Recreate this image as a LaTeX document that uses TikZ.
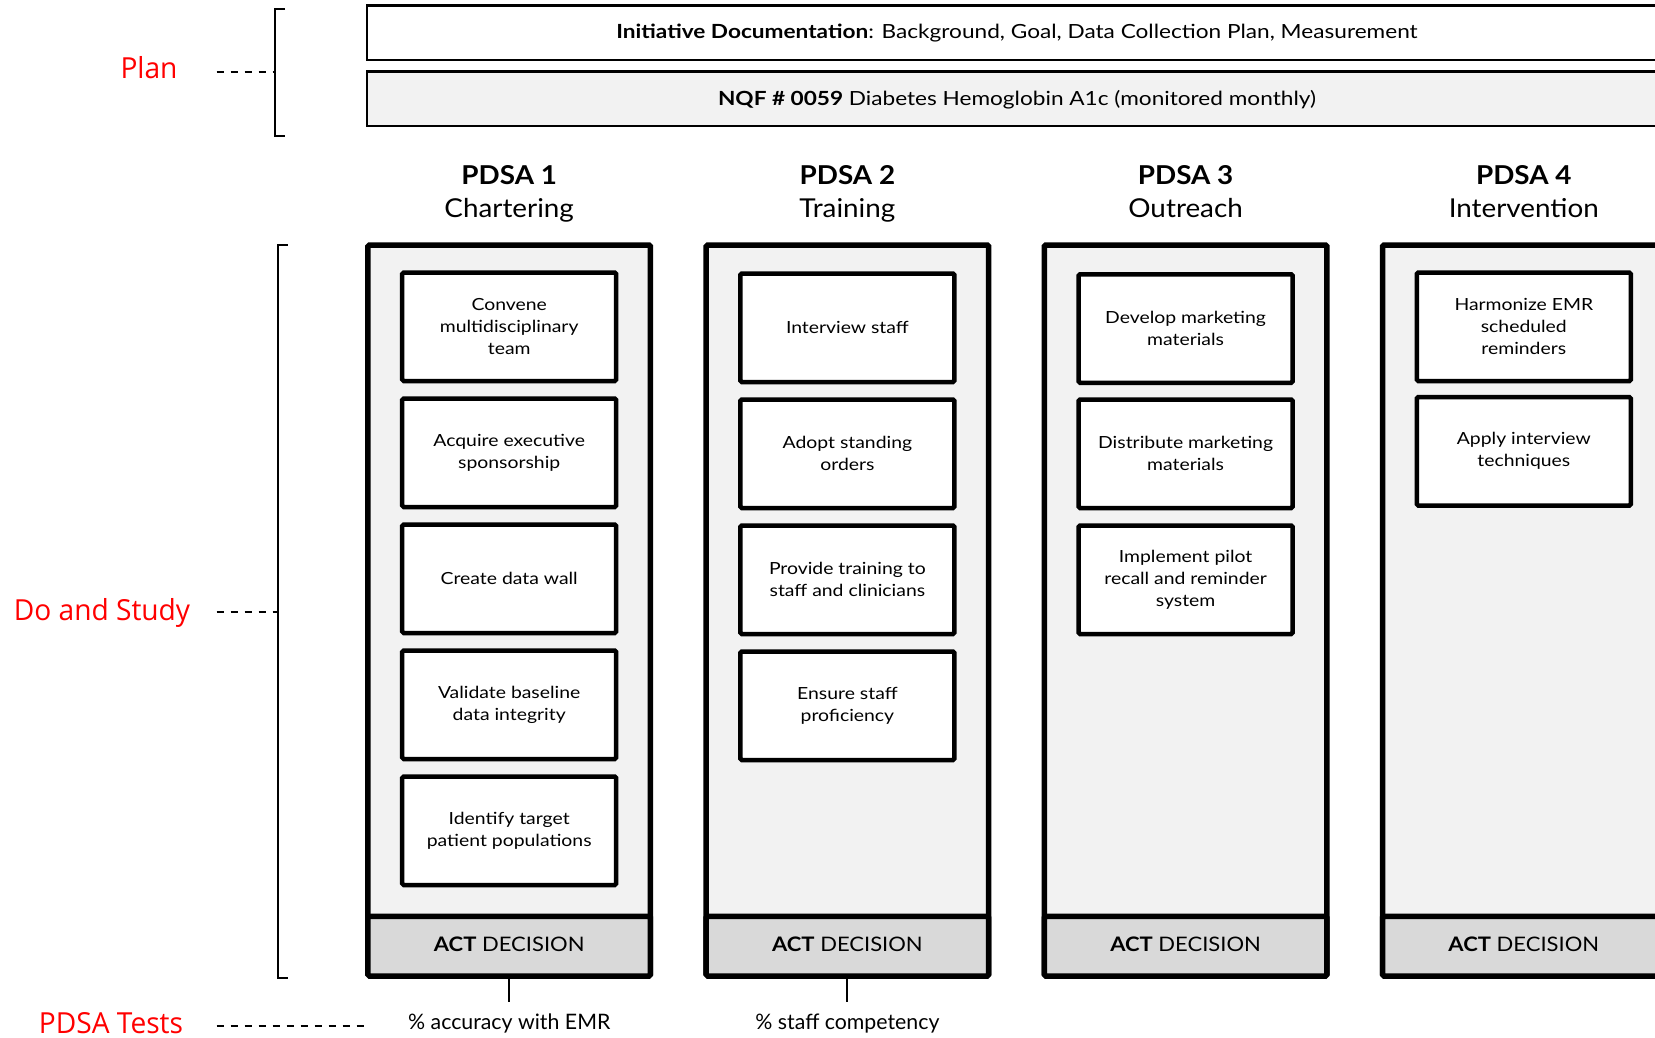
\documentclass[tikz,border=0pt]{standalone}
\usepackage{fontspec}
\setmainfont{Lato}
\newfontfamily\boxf[FakeStretch=1.16]{Lato}
\newfontfamily\headf[FakeStretch=1.07]{Lato}
\newfontfamily\actf[FakeStretch=1.10]{Lato}
\newfontfamily\redfont[FakeStretch=0.97]{Open Sans}
\definecolor{colgray}{HTML}{F2F2F2}
\definecolor{actgray}{HTML}{D9D9D9}
\definecolor{labred}{HTML}{FF0000}
\begin{document}
\begin{tikzpicture}[x=1pt,y=-1pt,
  colbox/.style={draw, line width=5.5pt, fill=colgray, minimum width=282.5pt, minimum height=730pt, anchor=north, inner sep=0pt, outer sep=0pt, rounded corners=1.5pt},
  actbox/.style={draw, line width=5.5pt, fill=actgray, minimum width=282.5pt, minimum height=59.7pt, anchor=north, inner sep=0pt, outer sep=0pt, rounded corners=1.5pt},
  taskbox/.style={draw, line width=4.5pt, fill=white, minimum width=214pt, minimum height=108.5pt, align=center, inner sep=0pt, outer sep=0pt, rounded corners=1.5pt, font={\boxf\fontsize{16.7}{22}\selectfont}},
  barbox/.style={draw, line width=2.5pt, minimum width=1298pt, anchor=north west, inner sep=0pt, outer sep=0pt},
  bartext/.style={anchor=base, inner sep=0pt, font={\boxf\fontsize{19.5}{23}\selectfont}},
  head/.style={anchor=base, inner sep=0pt, font={\headf\fontsize{26}{30}\selectfont}},
  acttext/.style={anchor=base, inner sep=0pt, font={\actf\fontsize{20}{24}\selectfont}},
  measure/.style={anchor=base, inner sep=0pt, font={\fontsize{21.3}{25}\selectfont}},
  redlab/.style={anchor=base, inner sep=0pt, text=labred, font={\redfont\fontsize{29}{34}\selectfont}},
  dashline/.style={line width=2pt, dash pattern=on 7.5pt off 6.5pt},
  bracket/.style={line width=2pt},
  conn/.style={line width=2pt}
]
\useasboundingbox (0,0) rectangle (1655,1038);
\clip (0,0) rectangle (1655,1038);

% top bars
\node[barbox, fill=white, minimum height=54.5pt] (bar1) at (367,5.7) {};
\node[bartext] (bar1t) at (1017,39) {\textbf{Initiative Documentation}: Background, Goal, Data Collection Plan, Measurement};
\node[barbox, fill=colgray, minimum height=54.5pt] (bar2) at (367,71.5) {};
\node[bartext] (bar2t) at (1017,106) {\textbf{NQF \# 0059} Diabetes Hemoglobin A1c (monitored monthly)};

% left labels
\node[redlab] (plan) at (149,79) {Plan};
\node[redlab] (dostudy) at (102,620.7) {Do and Study};
\node[redlab] (tests) at (111,1033) {PDSA Tests};

\coordinate (pd1) at (216.5,71.7);
\coordinate (pd2) at (275.4,71.7);
\draw[dashline] (pd1) -- (pd2);
\draw[bracket] (285,9) -- (275.4,9) -- (275.4,136) -- (285,136);

\coordinate (dd1) at (216.5,612.3);
\coordinate (dd2) at (277.7,612.3);
\draw[dashline] (dd1) -- (dd2);
\draw[bracket] (287.7,245) -- (277.7,245) -- (277.7,978.3) -- (287.7,978.3);

\coordinate (td1) at (216.5,1026);
\coordinate (td2) at (364,1026);
\draw[dashline] (td1) -- (td2);

% columns
\foreach \i/\cx/\hd/\sub in {1/509.2/PDSA 1/Chartering, 2/847.4/PDSA 2/Training, 3/1185.6/PDSA 3/Outreach, 4/1523.8/PDSA 4/Intervention}{
  \node[head, font={\headf\fontsize{26}{30}\selectfont\bfseries}] (h\i) at (\cx,185) {\hd};
  \node[head] (s\i) at (\cx,217.7) {\sub};
  \node[colbox] (c\i) at (\cx,245) {};
  \node[actbox] (a\i) at (\cx,916.3) {};
  \node[acttext] (at\i) at (\cx,951.7) {\textbf{ACT} DECISION};
}

% tasks column 1
\node[taskbox] (t11) at (509.2,326.75) {Convene\\multidisciplinary\\team};
\node[taskbox] (t12) at (509.2,452.75) {Acquire executive\\sponsorship};
\node[taskbox] (t13) at (509.2,578.75) {Create data wall};
\node[taskbox] (t14) at (509.2,704.75) {Validate baseline\\data integrity};
\node[taskbox] (t15) at (509.2,830.75) {Identify target\\patient populations};
% column 2
\node[taskbox] (t21) at (847.4,327.75) {Interview staff};
\node[taskbox] (t22) at (847.4,453.75) {Adopt standing\\orders};
\node[taskbox] (t23) at (847.4,579.75) {Provide training to\\staff and clinicians};
\node[taskbox] (t24) at (847.4,705.75) {Ensure staff\\proficiency};
% column 3
\node[taskbox] (t31) at (1185.6,328.5) {Develop marketing\\materials};
\node[taskbox] (t32) at (1185.6,453.75) {Distribute marketing\\materials};
\node[taskbox] (t33) at (1185.6,579.75) {Implement pilot\\recall and reminder\\system};
% column 4
\node[taskbox] (t41) at (1523.8,326.75) {Harmonize EMR\\scheduled\\reminders};
\node[taskbox] (t42) at (1523.8,451.25) {Apply interview\\techniques};

% measures
\node[measure] (m1) at (509.2,1029.3) {\% accuracy with EMR};
\node[measure] (m2) at (847.4,1029.3) {\% staff competency};
\coordinate (e1) at (509.2,1001.7);
\coordinate (e2) at (847.4,1001.7);
\draw[conn] (a1.south) -- (e1);
\draw[conn] (a2.south) -- (e2);
\end{tikzpicture}
\end{document}
